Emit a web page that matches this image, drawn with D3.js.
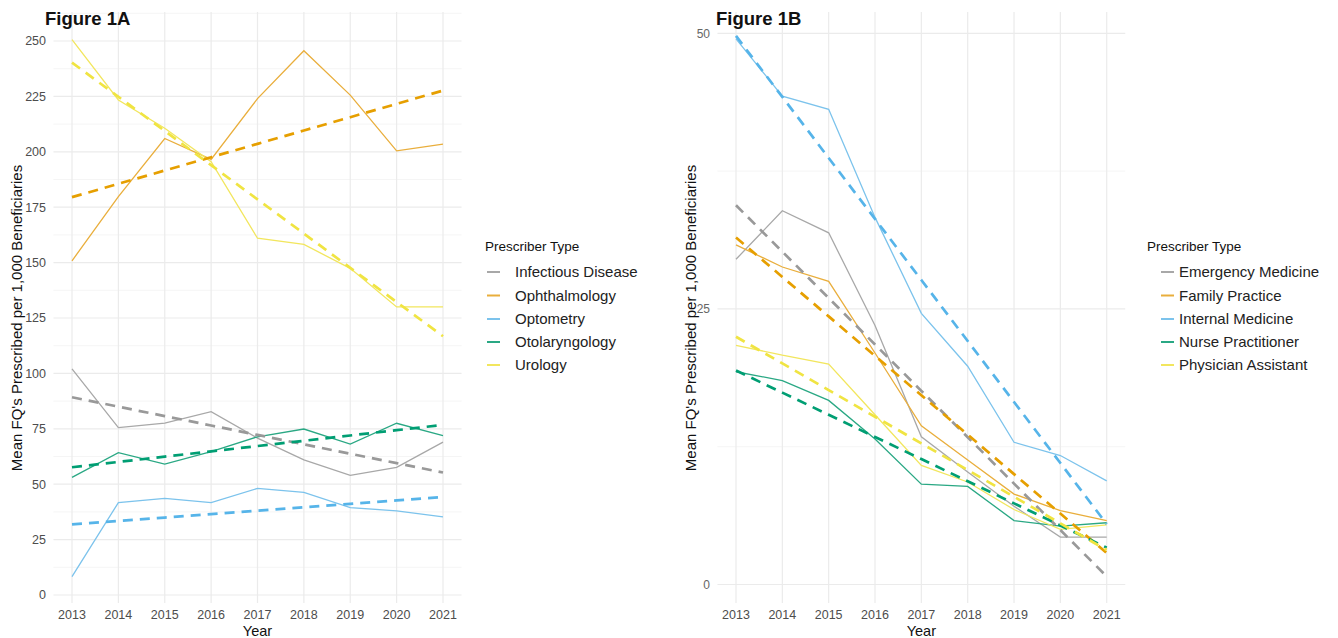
<!DOCTYPE html>
<html><head><meta charset="utf-8">
<script src="https://cdn.jsdelivr.net/npm/d3@7"></script>
<style>
body{margin:0;background:#fff;}
svg{font-family:"Liberation Sans",Arial,sans-serif;}
</style></head>
<body>
<svg id="c" width="1338" height="638"></svg>
<script>
const years = [2013,2014,2015,2016,2017,2018,2019,2020,2021];

// Figure 1A
const namesA = ["Infectious Disease","Ophthalmology","Optometry","Otolaryngology","Urology"];
const infectiousDisease = [102,75.5,77.6,82.7,70.8,61,54,57.6,69];
const ophthalmology = [150.8,179.8,206,196.6,224,245.6,225.6,200.4,203.5];
const optometry = [8.3,41.7,43.6,41.7,48.1,46.3,39.4,38,35.3];
const otolaryngology = [53.1,64.2,59.1,64.7,71.4,74.9,68.1,77.5,71.9];
const urology = [250.6,223.4,210.6,195.5,161,158.2,147.4,130,130];
const valuesA = [infectiousDisease, ophthalmology, optometry, otolaryngology, urology];
const ticksA = [0,25,50,75,100,125,150,175,200,225,250];

// Figure 1B
const namesB = ["Emergency Medicine","Family Practice","Internal Medicine","Nurse Practitioner","Physician Assistant"];
const emergencyMedicine = [29.5,33.9,31.9,23.5,13.4,10.2,7.1,4.3,4.3];
const familyPractice = [30.8,28.8,27.5,21,14.4,11.3,8.2,6.7,5.8];
const internalMedicine = [49.5,44.3,43.1,33.3,24.6,19.8,12.9,11.7,9.4];
const nursePractitioner = [19.3,18.5,16.7,13.2,9.1,8.9,5.8,5.3,5.6];
const physicianAssistant = [21.7,20.8,20,15.4,10.8,9.3,6.8,5,5.4];
const valuesB = [emergencyMedicine, familyPractice, internalMedicine, nursePractitioner, physicianAssistant];
const ticksB = [0,25,50];

const colors = ["#999999","#E69F00","#56B4E9","#009E73","#F0E442"];
const solidColors = ["#a8a8a8","#e9ae3c","#7cc3ec","#2aa884","#f2e65e"];

const svg = d3.select("#c");

function fit(vals){
  const mx = d3.mean(years), my = d3.mean(vals);
  let sxy=0, sxx=0;
  years.forEach((x,i)=>{sxy+=(x-mx)*(vals[i]-my); sxx+=(x-mx)*(x-mx);});
  const b = sxy/sxx, a = my - b*mx;
  return years.map(x=>a+b*x);
}

function panel(cfg){
  const g = svg.append("g");
  const x = d3.scaleLinear().domain([2013,2021]).range(cfg.xr);
  const y = d3.scaleLinear().domain(cfg.yd).range(cfg.yr);
  const left = x(2012.6), right = x(2021.4);
  const top = 12, bottom = 603;
  const minor = [];
  for (let v = cfg.minorStep/2; y(v) >= top; v += cfg.minorStep) minor.push(v);
  g.selectAll(".mn").data(minor).enter().append("line")
    .attr("x1",left).attr("x2",right).attr("y1",d=>y(d)).attr("y2",d=>y(d))
    .attr("stroke","#f3f3f3").attr("stroke-width",0.8);
  g.selectAll(".mj").data(cfg.ticks).enter().append("line")
    .attr("x1",left).attr("x2",right).attr("y1",d=>y(d)).attr("y2",d=>y(d))
    .attr("stroke","#ebebeb").attr("stroke-width",1.2);
  g.selectAll(".vx").data(years).enter().append("line")
    .attr("x1",d=>x(d)).attr("x2",d=>x(d)).attr("y1",top).attr("y2",bottom)
    .attr("stroke","#ebebeb").attr("stroke-width",1.2);
  g.selectAll(".yt").data(cfg.ticks).enter().append("text")
    .attr("x",cfg.ytx).attr("y",d=>y(d)).attr("dy","0.35em")
    .attr("text-anchor","end").attr("font-size",cfg.ytfs).attr("fill",cfg.ytcol)
    .text(d=>d);
  g.selectAll(".xt").data(years).enter().append("text")
    .attr("x",d=>x(d)).attr("y",619).attr("text-anchor","middle")
    .attr("font-size",12.5).attr("fill","#4d4d4d").text(d=>d);
  g.append("text").attr("x",(left+right)/2).attr("y",636).attr("text-anchor","middle")
    .attr("font-size",14.5).attr("fill","#111").text("Year");
  g.append("text").attr("transform",`translate(${cfg.ytitleX},318) rotate(-90)`)
    .attr("text-anchor","middle").attr("font-size",15).attr("fill","#111")
    .text("Mean FQ's Prescribed per 1,000 Beneficiaries");
  g.append("text").attr("x",cfg.titleX).attr("y",25).attr("font-size",18.5)
    .attr("font-weight","bold").attr("fill","#111").text(cfg.title);
  const line = d3.line().x((d,i)=>x(years[i])).y(d=>y(d));
  cfg.values.forEach((vals,k)=>{
    g.append("path").attr("d",line(vals)).attr("fill","none")
      .attr("stroke",solidColors[k]).attr("stroke-width",1.3);
  });
  cfg.values.forEach((vals,k)=>{
    g.append("path").attr("d",line(fit(vals))).attr("fill","none")
      .attr("stroke",colors[k]).attr("stroke-width",2.7).attr("stroke-dasharray","10,7");
  });
  const lg = g.append("g");
  lg.append("text").attr("x",cfg.lg.tx).attr("y",251).attr("font-size",13.5)
    .attr("fill","#111").text("Prescriber Type");
  const ly = [272,295.5,319,342,365];
  cfg.names.forEach((nm,k)=>{
    lg.append("line").attr("x1",cfg.lg.k1).attr("x2",cfg.lg.k2)
      .attr("y1",ly[k]).attr("y2",ly[k]).attr("stroke",solidColors[k]).attr("stroke-width",2);
    lg.append("text").attr("x",cfg.lg.lx).attr("y",ly[k]).attr("dy","0.35em")
      .attr("font-size",15).attr("fill","#222").text(nm);
  });
}

panel({title:"Figure 1A", titleX:45, xr:[72,443], yd:[0,250], yr:[595,41],
  ticks:ticksA, minorStep:25, ytx:46, ytfs:12.5, ytcol:"#4d4d4d", ytitleX:22,
  values:valuesA, names:namesA, lg:{tx:485,k1:487,k2:500,lx:515}});
panel({title:"Figure 1B", titleX:716, xr:[736,1106.7], yd:[0,50], yr:[584.5,33.3],
  ticks:ticksB, minorStep:25, ytx:710, ytfs:12, ytcol:"#666", ytitleX:696,
  values:valuesB, names:namesB, lg:{tx:1147,k1:1161,k2:1174,lx:1179}});
</script>
</body></html>
